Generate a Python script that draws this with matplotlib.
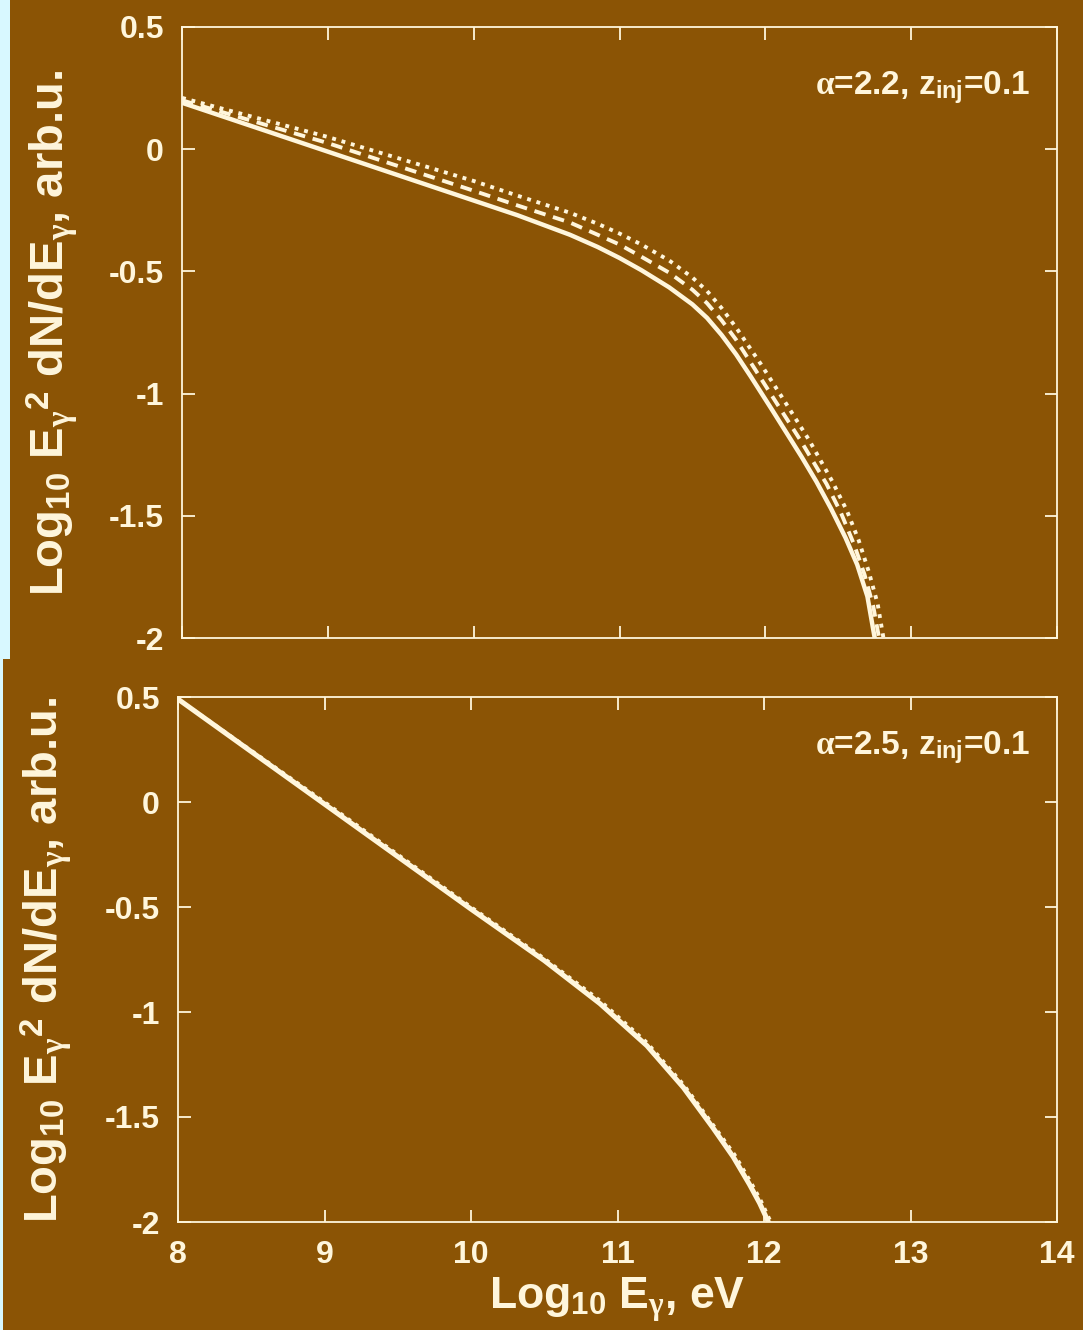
import numpy as np
import matplotlib
matplotlib.use('Agg')
import matplotlib.pyplot as plt
from matplotlib.patches import Rectangle

# panel 1: alpha=2.2 (three curves)
x_solid_a = [8.0, 9.0, 10.0, 10.3, 10.66, 10.85, 11.0, 11.15, 11.34, 11.5, 11.6, 11.7, 11.8,
             11.9, 12.05, 12.25, 12.35, 12.45, 12.55, 12.63, 12.70, 12.75, 12.77]
y_solid_a = [0.19, -0.01, -0.21, -0.27, -0.35, -0.40, -0.445, -0.495, -0.565, -0.635, -0.69, -0.76, -0.84,
             -0.93, -1.07, -1.26, -1.36, -1.47, -1.59, -1.70, -1.83, -2.0, -2.06]
x_dash_a = [8.0, 9.0, 10.0, 10.3, 10.66, 10.85, 11.0, 11.15, 11.34, 11.5, 11.6, 11.7, 11.8,
            11.95, 12.1, 12.24, 12.42, 12.52, 12.61, 12.68, 12.74, 12.78, 12.80]
y_dash_a = [0.20, 0.025, -0.17, -0.23, -0.30, -0.35, -0.39, -0.44, -0.505, -0.575, -0.63, -0.70, -0.78,
            -0.92, -1.06, -1.19, -1.37, -1.49, -1.62, -1.74, -1.87, -2.0, -2.06]
x_dot_a = [8.0, 9.0, 10.0, 10.3, 10.66, 10.85, 11.0, 11.15, 11.34, 11.5, 11.6, 11.7, 11.8,
           11.97, 12.12, 12.30, 12.46, 12.56, 12.64, 12.71, 12.77, 12.81, 12.83]
y_dot_a = [0.21, 0.05, -0.13, -0.19, -0.26, -0.305, -0.345, -0.39, -0.455, -0.525, -0.58, -0.65, -0.73,
           -0.88, -1.02, -1.19, -1.36, -1.48, -1.60, -1.73, -1.86, -2.0, -2.06]

# panel 2: alpha=2.5 (curves nearly on top of each other)
x_solid_b = [8.0, 9.0, 10.0, 10.5, 10.88, 11.2, 11.45, 11.65, 11.79, 11.9, 11.97, 12.03, 12.05]
y_solid_b = [0.49, -0.01, -0.51, -0.755, -0.96, -1.16, -1.36, -1.55, -1.69, -1.82, -1.91, -2.0, -2.04]
x_dot_b = [8.0, 9.0, 10.0, 10.5, 10.88, 11.2, 11.45, 11.65, 11.80, 11.91, 11.98, 12.04, 12.06]
y_dot_b = [0.49, 0.0, -0.50, -0.745, -0.945, -1.145, -1.345, -1.535, -1.68, -1.81, -1.90, -1.99, -2.04]

xticks = [8, 9, 10, 11, 12, 13, 14]
yticks = [0.5, 0, -0.5, -1, -1.5, -2]
ytick_labels = ['0.5', '0', '-0.5', '-1', '-1.5', '-2']

BROWN = '#8b5405'
CREAM = '#fff6dc'
CYAN = '#d8f8ff'

plt.rcParams['font.family'] = ['Liberation Sans', 'DejaVu Sans']
plt.rcParams['font.weight'] = 'bold'
plt.rcParams['mathtext.fontset'] = 'custom'
plt.rcParams['mathtext.rm'] = 'Liberation Sans:bold'
plt.rcParams['mathtext.bf'] = 'Liberation Sans:bold'
plt.rcParams['mathtext.it'] = 'Liberation Serif'

W, H = 1083, 1330
fig = plt.figure(figsize=(W / 100, H / 100), dpi=100, facecolor=CYAN)
fig.patches.append(Rectangle((10 / W, 1 - 659 / H), 1, 659 / H, transform=fig.transFigure,
                             facecolor=BROWN, edgecolor='none', zorder=-5))
fig.patches.append(Rectangle((3 / W, 0), 1, 1 - 659 / H, transform=fig.transFigure,
                             facecolor=BROWN, edgecolor='none', zorder=-5))

ax1 = fig.add_axes([182 / W, 1 - 638 / H, 875 / W, 611 / H])
ax2 = fig.add_axes([178 / W, 1 - 1222 / H, 879 / W, 525 / H])


def style(ax, show_x):
    ax.set_facecolor(BROWN)
    ax.set_xlim(8, 14)
    ax.set_ylim(-2, 0.5)
    ax.set_xticks(xticks)
    ax.set_yticks(yticks)
    ax.set_yticklabels(ytick_labels)
    for s in ax.spines.values():
        s.set_color(CREAM)
        s.set_linewidth(1.3)
    ax.tick_params(direction='in', length=9, width=1.3, color=CREAM,
                   top=True, right=True, labelsize=23, labelcolor=CREAM, pad=13)
    if not show_x:
        ax.tick_params(labelbottom=False)


style(ax1, False)
style(ax2, True)

ax1.plot(x_solid_a, y_solid_a, color=CREAM, lw=3.2, solid_capstyle='butt')
ax1.plot(x_dash_a, y_dash_a, color=CREAM, lw=2.8, linestyle=(0, (3, 2)))
ax1.plot(x_dot_a, y_dot_a, color=CREAM, lw=2.8, linestyle=(0, (1, 1.5)))

ax2.plot(x_solid_b, y_solid_b, color=CREAM, lw=3.6)
ax2.plot(x_dot_b, y_dot_b, color=CREAM, lw=2.6, linestyle=(0, (1, 1.5)))

ax1.text(1030 / W, 1 - 88 / H, r'$\alpha$=2.2, z$_{\mathbf{inj}}$=0.1', transform=fig.transFigure,
         ha='right', va='center', fontsize=24, color=CREAM)
ax2.text(1030 / W, 1 - 748 / H, r'$\alpha$=2.5, z$_{\mathbf{inj}}$=0.1', transform=fig.transFigure,
         ha='right', va='center', fontsize=24, color=CREAM)

ylab = r'Log$_{\mathbf{10}}$ E$_\gamma$$^{\mathbf{2}}$ dN/dE$_\gamma$, arb.u.'
fig.text(52 / W, 1 - 333 / H, ylab, rotation=90, ha='center', va='center', fontsize=34, color=CREAM)
fig.text(46 / W, 1 - 960 / H, ylab, rotation=90, ha='center', va='center', fontsize=34, color=CREAM)
fig.text(617 / W, 1 - 1300 / H, r'Log$_{\mathbf{10}}$ E$_\gamma$, eV', ha='center', va='center',
         fontsize=32, color=CREAM)

fig.savefig('out.png', dpi=100, facecolor=fig.get_facecolor())
